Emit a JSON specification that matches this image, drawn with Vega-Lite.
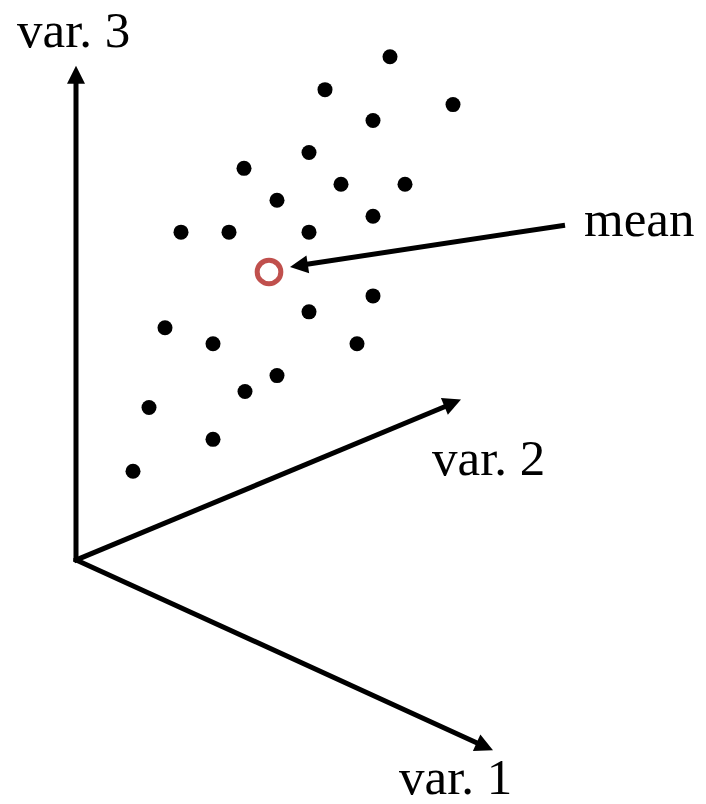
{
  "$schema": "https://vega.github.io/schema/vega-lite/v6.json",
  "autosize": {"type": "fit", "contains": "padding"},
  "width": 706,
  "height": 804,
  "padding": 0,
  "background": "white",
  "config": {"view": {"stroke": null}},
  "datasets": {
    "samples": [
      {"v2": 390, "v3": 57}, {"v2": 325, "v3": 90}, {"v2": 453, "v3": 105},
      {"v2": 373, "v3": 121}, {"v2": 309, "v3": 153}, {"v2": 244, "v3": 169},
      {"v2": 341, "v3": 185}, {"v2": 405, "v3": 185}, {"v2": 277, "v3": 201},
      {"v2": 373, "v3": 217}, {"v2": 181, "v3": 233}, {"v2": 229, "v3": 233},
      {"v2": 309, "v3": 233}, {"v2": 373, "v3": 297}, {"v2": 309, "v3": 313},
      {"v2": 165, "v3": 329}, {"v2": 213, "v3": 345}, {"v2": 357, "v3": 345},
      {"v2": 277, "v3": 377}, {"v2": 245, "v3": 393}, {"v2": 149, "v3": 409},
      {"v2": 213, "v3": 441}, {"v2": 133, "v3": 473}
    ],
    "centroid": [{"v2": 269, "v3": 273}],
    "arrows": [
      {"name": "var. 3", "x0": 76, "y0": 564, "x1": 76, "y1": 80, "tx": 76, "ty": 66, "angle": 0},
      {"name": "var. 2", "x0": 74, "y0": 563, "x1": 450, "y1": 406, "tx": 461, "ty": 401, "angle": 67.4},
      {"name": "var. 1", "x0": 74, "y0": 561, "x1": 482, "y1": 748, "tx": 493, "ty": 753, "angle": 114.5},
      {"name": "mean", "x0": 565, "y0": 226, "x1": 302, "y1": 266, "tx": 290, "ty": 268, "angle": 261.3}
    ],
    "labels": [
      {"text": "var. 3", "x": 17, "y": 47},
      {"text": "var. 2", "x": 432, "y": 477},
      {"text": "var. 1", "x": 399, "y": 797},
      {"text": "mean", "x": 584, "y": 237}
    ]
  },
  "layer": [
    {
      "data": {"name": "arrows"},
      "mark": {"type": "rule", "color": "black", "strokeWidth": 5},
      "encoding": {
        "x": {"field": "x0", "type": "quantitative", "scale": {"domain": [0, 706], "nice": false, "zero": false}, "axis": null},
        "y": {"field": "y0", "type": "quantitative", "scale": {"domain": [0, 804], "nice": false, "zero": false, "reverse": true}, "axis": null},
        "x2": {"field": "x1"},
        "y2": {"field": "y1"}
      }
    },
    {
      "data": {"name": "arrows"},
      "mark": {"type": "point", "shape": "M0,0L1,2L-1,2Z", "filled": true, "color": "black", "opacity": 1, "size": 324},
      "encoding": {
        "x": {"field": "tx", "type": "quantitative"},
        "y": {"field": "ty", "type": "quantitative"},
        "angle": {"field": "angle", "type": "quantitative", "scale": null}
      }
    },
    {
      "data": {"name": "samples"},
      "mark": {"type": "circle", "color": "black", "opacity": 1, "size": 225},
      "encoding": {
        "x": {"field": "v2", "type": "quantitative"},
        "y": {"field": "v3", "type": "quantitative"}
      }
    },
    {
      "data": {"name": "centroid"},
      "mark": {"type": "point", "shape": "circle", "filled": false, "stroke": "#c0504d", "strokeWidth": 5, "opacity": 1, "size": 560},
      "encoding": {
        "x": {"field": "v2", "type": "quantitative"},
        "y": {"field": "v3", "type": "quantitative"}
      }
    },
    {
      "data": {"name": "labels"},
      "mark": {"type": "text", "font": "Liberation Serif", "fontSize": 51, "align": "left", "baseline": "alphabetic", "color": "black"},
      "encoding": {
        "x": {"field": "x", "type": "quantitative"},
        "y": {"field": "y", "type": "quantitative"},
        "text": {"field": "text"}
      }
    }
  ]
}
